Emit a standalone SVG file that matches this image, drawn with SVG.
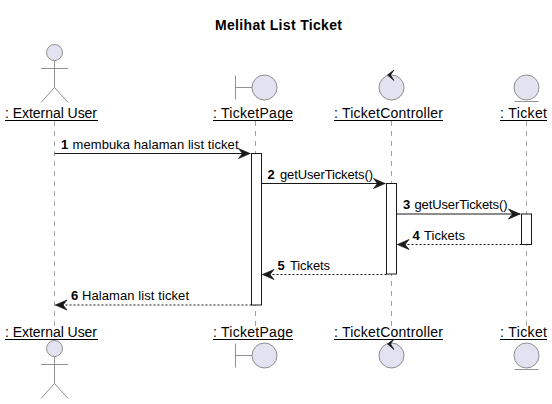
<svg xmlns="http://www.w3.org/2000/svg" width="552" height="404" viewBox="0 0 552 404">
<style>
text{font-family:"Liberation Sans",Arial,sans-serif;fill:#000}
.t{font-size:14px;font-weight:bold}
.p{font-size:14px}
.m{font-size:13px}
.n{font-size:13px;font-weight:bold}
.sh{fill:#E2E2F0;stroke:#6e6e6e;stroke-width:.75}
.ln{fill:none;stroke:#6e6e6e;stroke-width:.75}
.ll{stroke:#808080;stroke-width:.75;stroke-dasharray:5 5}
.ac{fill:#fff;stroke:#181818;stroke-width:1}
.ms{stroke:#181818;stroke-width:1;fill:none}
.da{stroke-dasharray:2 2}
.u{stroke:#000;stroke-width:1;fill:none}
</style>
<defs>
<marker id="ah" markerUnits="userSpaceOnUse" markerWidth="15" markerHeight="13" refX="12.500" refY="6" orient="auto-start-reverse" viewBox="0 0 15 13">
<path d="M0.500 1L12 6L0.500 11L4.500 6Z" fill="#181818" stroke="#181818" stroke-width=".75" stroke-linejoin="miter"/>
</marker>
<path id="ctl" d="M394 70L387.500 75L394 80.500L390.500 75Z" fill="#181818" stroke="#181818" stroke-width=".75"/>
</defs>
<rect width="552" height="404" fill="#fff"/>
<text class="t" x="215" y="30" textLength="127" id="title">Melihat List Ticket</text>
<g id="lifelines">
<line class="ll" x1="54.500" y1="121" x2="54.500" y2="328"/>
<line class="ll" x1="255.500" y1="121" x2="255.500" y2="328"/>
<line class="ll" x1="391.500" y1="121" x2="391.500" y2="328"/>
<line class="ll" x1="526.500" y1="121" x2="526.500" y2="328"/>
</g>
<g id="external-user">
<circle class="sh" cx="54.500" cy="52.500" r="8"/>
<path class="ln" d="M54.500 60.500V87.500M41 68.500H68M41 102.500L54.500 87.500L68 102.500"/>
<text class="p" x="5" y="118" textLength="92">: External User</text>
<path class="u" d="M5 120.500H98M5 339.500H98"/>
<text class="p" x="5" y="337" textLength="92">: External User</text>
<circle class="sh" cx="54.500" cy="348.500" r="8"/>
<path class="ln" d="M54.500 356.500V383.500M41 364.500H68M41 398.500L54.500 383.500L68 398.500"/>
</g>
<g id="ticket-page">
<circle class="sh" cx="264.500" cy="87.500" r="12.500"/>
<path class="ln" d="M235.500 75.500V99.500M235.500 87.500H252"/>
<text class="p" x="213" y="118" textLength="80">: TicketPage</text>
<path class="u" d="M213 120.500H293M213 339.500H293"/>
<text class="p" x="213" y="337" textLength="80">: TicketPage</text>
<circle class="sh" cx="264.500" cy="355.500" r="12.500"/>
<path class="ln" d="M235.500 343.500V367.500M235.500 355.500H252"/>
</g>
<g id="ticket-controller">
<circle class="sh" cx="391.500" cy="87.500" r="12.500"/>
<use href="#ctl"/>
<text class="p" x="334" y="118" textLength="109">: TicketController</text>
<path class="u" d="M334 120.500H443M334 339.500H443"/>
<text class="p" x="334" y="337" textLength="109">: TicketController</text>
<circle class="sh" cx="391.500" cy="355.500" r="12.500"/>
<use href="#ctl" y="269"/>
</g>
<g id="ticket">
<circle class="sh" cx="526.500" cy="87.500" r="12.500"/>
<path class="ln" d="M514.500 101.500H538.500"/>
<text class="p" x="500" y="118" textLength="47">: Ticket</text>
<path class="u" d="M500 120.500H547M500 339.500H547"/>
<text class="p" x="500" y="337" textLength="47">: Ticket</text>
<circle class="sh" cx="526.500" cy="355.500" r="12.500"/>
<path class="ln" d="M514.500 369.500H538.500"/>
</g>
<g id="activations">
<rect class="ac" x="251.500" y="153.500" width="10" height="151.500"/>
<rect class="ac" x="386.500" y="183.500" width="10" height="90.500"/>
<rect class="ac" x="521.500" y="214" width="10" height="30.500"/>
</g>
<g id="connectors">
<line class="ms" x1="54.500" y1="153.500" x2="250.500" y2="153.500" marker-end="url(#ah)"/>
<line class="ms" x1="261.500" y1="183.500" x2="385.500" y2="183.500" marker-end="url(#ah)"/>
<line class="ms" x1="396.500" y1="214" x2="520.500" y2="214" marker-end="url(#ah)"/>
<line class="ms da" x1="521.500" y1="244.500" x2="397" y2="244.500" marker-end="url(#ah)"/>
<line class="ms da" x1="386.500" y1="274.500" x2="262" y2="274.500" marker-end="url(#ah)"/>
<line class="ms da" x1="251.500" y1="305" x2="55" y2="305" marker-end="url(#ah)"/>
</g>
<g id="labels">
<text class="n" x="61" y="149">1</text><text class="m" x="72.500" y="149" textLength="166">membuka halaman list ticket</text>
<text class="n" x="267.500" y="179">2</text><text class="m" x="280" y="179" textLength="93">getUserTickets()</text>
<text class="n" x="403" y="209">3</text><text class="m" x="414.500" y="209" textLength="93">getUserTickets()</text>
<text class="n" x="412.500" y="240">4</text><text class="m" x="424" y="240" textLength="41">Tickets</text>
<text class="n" x="277.500" y="270">5</text><text class="m" x="290" y="270" textLength="40">Tickets</text>
<text class="n" x="71" y="300">6</text><text class="m" x="82" y="300" textLength="107">Halaman list ticket</text>
</g>
</svg>
